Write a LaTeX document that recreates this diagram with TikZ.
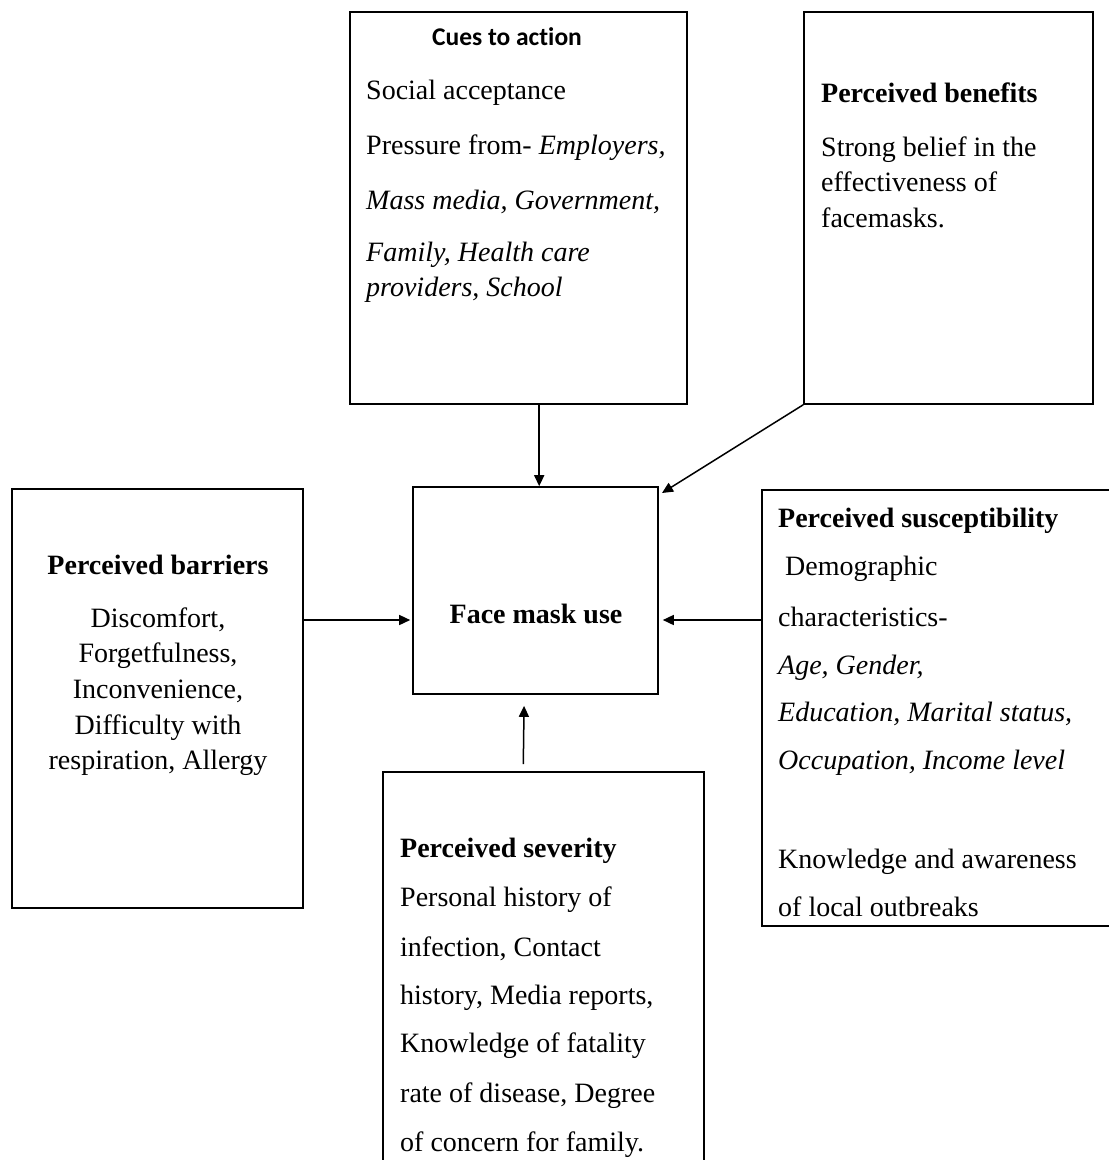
\documentclass[tikz,border=0pt]{standalone}
\usepackage{fontspec}
\setmainfont{Liberation Serif}
\newfontfamily\cuesfont[Ligatures=NoCommon]{Carlito}
\usetikzlibrary{arrows.meta}
\tikzset{
  box/.style={draw, line width=1.6pt, rectangle, inner sep=0pt},
  ln/.style={anchor=base west, inner sep=0pt, yshift=-3pt, font=\fontsize{28}{33}\selectfont},
  lc/.style={anchor=base, inner sep=0pt, yshift=-3pt, font=\fontsize{28}{33}\selectfont},
  hd/.style={ln, font=\fontsize{28}{33}\selectfont\bfseries},
  arr/.style={line width=1.5pt, -{Triangle[length=11pt,width=10pt]}}
}
\begin{document}
\begin{tikzpicture}[x=1pt,y=-1pt]
\useasboundingbox (0,0) rectangle (1109,1160);
% boxes
\node[box, minimum width=337pt, minimum height=392pt] (cues) at (518.5,208) {};
\node[box, minimum width=289pt, minimum height=392pt] (ben) at (948.5,208) {};
\node[box, minimum width=291pt, minimum height=419pt] (bar) at (157.5,698.5) {};
\node[box, minimum width=245pt, minimum height=207pt] (face) at (535.5,590.5) {};
\node[box, minimum width=360pt, minimum height=436pt] (sus) at (942,708) {};
\node[box, minimum width=321pt, minimum height=440pt] (sev) at (543.5,992) {};
% cues text
\node[anchor=base, inner sep=0pt, yshift=-2pt, font=\cuesfont\bfseries\fontsize{25.5}{30}\selectfont] (ct) at (507,43) {Cues to action};
\node[ln] (c1) at (366,96) {Social acceptance};
\node[ln] (c2) at (366,151) {Pressure from- \textit{Employers,}};
\node[ln] (c3) at (366,206) {\textit{Mass media, Government,}};
\node[ln] (c4) at (366,258) {\textit{Family, Health care}};
\node[ln] (c5) at (366,293) {\textit{providers, School}};
% benefits text
\node[hd] (bt) at (821,99) {Perceived benefits};
\node[ln] (b1) at (821,153) {Strong belief in the};
\node[ln] (b2) at (821,188) {effectiveness of};
\node[ln] (b3) at (821,224) {facemasks.};
% barriers text
\node[lc, font=\fontsize{28}{33}\selectfont\bfseries] (rt) at (158,571) {Perceived barriers};
\node[lc] (r1) at (158,624) {Discomfort,};
\node[lc] (r2) at (158,659) {Forgetfulness,};
\node[lc] (r3) at (158,695) {Inconvenience,};
\node[lc] (r4) at (158,731) {Difficulty with};
\node[lc] (r5) at (158,766) {respiration, Allergy};
% face
\node[lc, font=\fontsize{28}{33}\selectfont\bfseries] (ft) at (536,620) {Face mask use};
% susceptibility text
\node[hd] (st) at (778,524) {Perceived susceptibility};
\node[ln] (s1) at (785,572) {Demographic};
\node[ln] (s2) at (778,623) {characteristics-};
\node[ln] (s3) at (778,671) {\textit{Age, Gender,}};
\node[ln] (s4) at (778,718) {\textit{Education, Marital status,}};
\node[ln] (s5) at (778,766) {\textit{Occupation, Income level}};
\node[ln] (s6) at (778,865) {Knowledge and awareness};
\node[ln] (s7) at (778,913) {of local outbreaks};
% severity text
\node[hd] (vt) at (400,854) {Perceived severity};
\node[ln] (v1) at (400,903) {Personal history of};
\node[ln] (v2) at (400,953) {infection, Contact};
\node[ln] (v3) at (400,1001) {history, Media reports,};
\node[ln] (v4) at (400,1049) {Knowledge of fatality};
\node[ln] (v5) at (400,1099) {rate of disease, Degree};
\node[ln] (v6) at (400,1148) {of concern for family.};
% connectors
\coordinate (row) at (0,620);
\coordinate (bentip) at (662,493);
\draw[arr] ([xshift=190pt]cues.south west) -- ([xshift=127pt]face.north west);
\draw[arr] (ben.south west) -- (bentip);
\draw[arr] (bar.east |- row) -- ([xshift=-2pt]face.west |- row);
\draw[arr] (sus.west |- row) -- ([xshift=4pt]face.east |- row);
\draw[arr, shorten <=7pt, shorten >=11pt] ([xshift=141pt]sev.north west) -- ([xshift=112pt]face.south west);
\end{tikzpicture}
\end{document}
